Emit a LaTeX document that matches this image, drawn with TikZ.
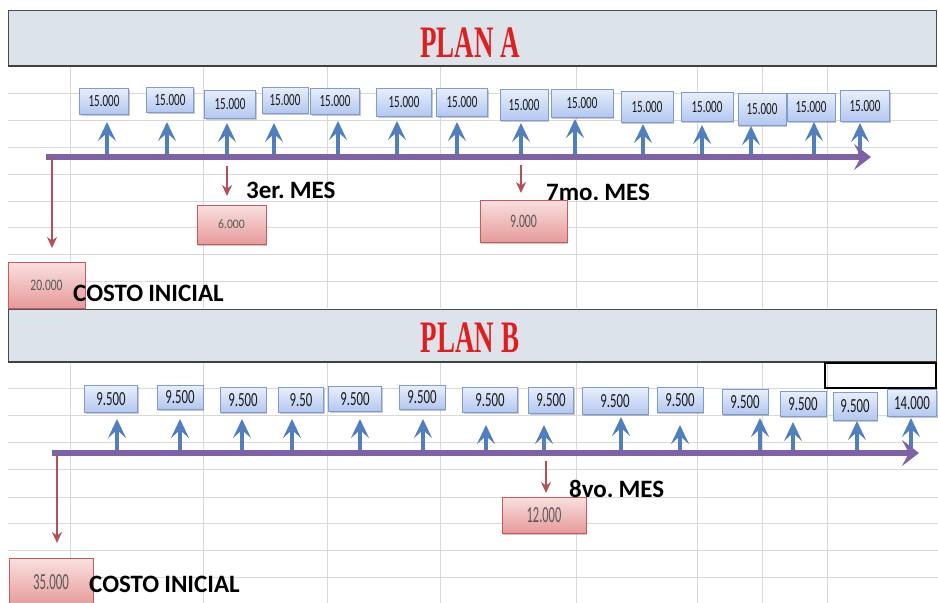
\documentclass[tikz,border=0pt]{standalone}
\usepackage{fontspec}
\setmainfont{Carlito}
\newfontfamily\titlefont{Liberation Serif}
\usetikzlibrary{arrows.meta,shadows}
\definecolor{gridc}{HTML}{D9D9D9}
\definecolor{bandc}{HTML}{DCE3EB}
\definecolor{titlec}{HTML}{E31E1A}
\definecolor{axisc}{HTML}{7D63A6}
\definecolor{upc}{HTML}{4F7FBF}
\definecolor{downc}{HTML}{B84F57}
\definecolor{bboxb}{HTML}{7F9BD0}
\definecolor{btop}{HTML}{E8EFFB}
\definecolor{bbot}{HTML}{B3C7F0}
\definecolor{rtop}{HTML}{FAE0E0}
\definecolor{rbot}{HTML}{E69A9A}
\definecolor{rboxb}{HTML}{C9595B}
\newcommand\numA[1]{\scalebox{0.65}[1]{\fontsize{17}{17}\selectfont #1}}
\newcommand\numB[1]{\scalebox{0.64}[1]{\fontsize{20}{20}\selectfont #1}}
\newcommand\numR[3]{\scalebox{#2}[1]{\fontsize{#1}{#1}\selectfont #3}}
\newcommand\wsp{\hspace{0.2em}}
\tikzset{
  bluebox/.style={draw=bboxb, line width=0.8pt, top color=btop, bottom color=bbot,
    inner sep=0pt, text=black!90,
    drop shadow={shadow xshift=1.2pt, shadow yshift=-1.8pt, opacity=0.35, fill=black!60}},
  redbox/.style={draw=rboxb, line width=0.8pt, top color=rtop, bottom color=rbot,
    inner sep=0pt, text=black!65,
    drop shadow={shadow xshift=1.2pt, shadow yshift=-1.8pt, opacity=0.35, fill=black!60}},
  axisline/.style={draw=axisc, line width=5.5pt, -{Stealth[length=17pt,width=26pt,inset=7pt]}},
  uparrow/.style={draw=upc, line width=3.6pt, -{Stealth[length=19pt,width=18pt,inset=8pt]}},
  downarrow/.style={draw=downc, line width=2.4pt, -{Stealth[length=11pt,width=10pt]}},
  lbl/.style={font=\bfseries\fontsize{25}{25}\selectfont, anchor=west, inner sep=0pt},
  titletext/.style={font=\titlefont\bfseries\fontsize{45}{45}\selectfont, text=titlec, inner sep=0pt},
  gridline/.style={draw=gridc, line width=1pt},
  band/.style={fill=bandc, draw=black!70, line width=1pt}
}
\begin{document}
\begin{tikzpicture}[x=1pt,y=-1pt]
\useasboundingbox (0,0) rectangle (938,603);
\fill[white] (0,0) rectangle (938,603);
% grid
\foreach \y in {93,120,147,174,201,227,254,281} \draw[gridline] (8,\y) -- (938,\y);
\foreach \x in {70,203,327,440,576,697,762,827} \draw[gridline] (\x,66) -- (\x,308);
\foreach \y in {388,415,442,469,497,523,550,577} \draw[gridline] (8,\y) -- (938,\y);
\foreach \x in {70,203,327,440,576,697,762,827} \draw[gridline] (\x,362) -- (\x,603);
% bands
\draw[band] (8,10) rectangle (936,66);
\draw[black!75, line width=1.6pt] (8,66) -- (936,66);
\draw[band] (8,309) rectangle (936,362);
\draw[black!75, line width=1.6pt] (8,362) -- (936,362);
\node[titletext] (tA) at (470,43) {\scalebox{0.6}[1]{PLAN A}};
\node[titletext] (tB) at (470,338) {\scalebox{0.6}[1]{PLAN B}};
\draw[black, line width=1.5pt] (825,363) rectangle (936,388);
% PLAN A payments
\foreach \i/\cx/\cy/\w/\h/\ax/\ty in {
  1/104/101/49/26/107/122, 2/170/100/47/25/167/122, 3/230/104/51/28/227/123,
  4/285/100/46/26/274/123, 5/335/101/49/26/338/121, 6/404/102/55/28/397/121,
  7/462/102/51/28/457/122, 8/524/105/48/31/521/123, 9/582/103/62/28/575/119,
  10/647/107/52/31/643/124, 11/707/107/52/29/702/125, 12/762/109/48/32/751/126,
  13/811/107/48/28/814/122, 14/865/106/49/31/860/123}{
  \coordinate (sA\i) at (\ax,158);
  \coordinate (eA\i) at (\ax,\ty);
  \draw[uparrow] (sA\i) -- (eA\i);
  \node[bluebox, minimum width=\w pt, minimum height=\h pt] (bA\i) at (\cx,\cy) {\numA{15.000}};
}
\coordinate (axA0) at (46,157);
\coordinate (axA1) at (871,157);
\draw[axisline] (axA0) -- (axA1);
% PLAN A costs
\coordinate (dA1s) at (52,157); \coordinate (dA1e) at (52,248);
\coordinate (dA2s) at (227,166); \coordinate (dA2e) at (227,196);
\coordinate (dA3s) at (521,165); \coordinate (dA3e) at (521,193);
\draw[downarrow] (dA1s) -- (dA1e);
\draw[downarrow] (dA2s) -- (dA2e);
\draw[downarrow] (dA3s) -- (dA3e);
\node[redbox, minimum width=77pt, minimum height=46pt] (rA1) at (46.5,285) {\numR{16}{0.72}{20.000}};
\node[redbox, minimum width=69pt, minimum height=39pt] (rA2) at (231.5,224.5) {\numR{13}{0.9}{6.000}};
\node[redbox, minimum width=87pt, minimum height=42pt] (rA3) at (523.5,221) {\numR{19}{0.62}{9.000}};
\node[lbl] (lA2) at (246,190) {3er.\wsp MES};
\node[lbl] (lA3) at (546,192) {7mo.\wsp MES};
\node[lbl] (lA1) at (73,293) {COSTO\wsp INICIAL};
% PLAN B payments
\foreach \i/\cx/\cy/\w/\h/\ax/\ty/\t in {
  1/111/399/53/27/117/419/9.500, 2/180/397/46/24/180/419/9.500,
  3/243/400/46/25/242/419/9.500, 4/301/400/45/25/292/419/9.50,
  5/355/399/53/25/360/419/9.500, 6/422/397/46/24/423/419/9.500,
  7/490/400/55/25/486/425/9.500, 8/551/400/45/26/544/425/9.500,
  9/615/401/66/27/621/417/9.500, 10/680/400/46/25/680/425/9.500,
  11/745/402/46/25/760/418/9.500, 12/803/404/46/25/793/422/9.500,
  13/855/406/44/28/857/421/9.500, 14/912/403/49/27/911/418/14.000}{
  \coordinate (sB\i) at (\ax,455);
  \coordinate (eB\i) at (\ax,\ty);
  \draw[uparrow] (sB\i) -- (eB\i);
  \node[bluebox, minimum width=\w pt, minimum height=\h pt] (bB\i) at (\cx,\cy) {\numB{\t}};
}
\coordinate (axB0) at (52,453);
\coordinate (axB1) at (919,453);
\draw[axisline] (axB0) -- (axB1);
% PLAN B costs
\coordinate (dB1s) at (57,454); \coordinate (dB1e) at (57,543);
\coordinate (dB2s) at (546,461); \coordinate (dB2e) at (546,493);
\draw[downarrow] (dB1s) -- (dB1e);
\draw[downarrow] (dB2s) -- (dB2e);
\node[redbox, minimum width=84pt, minimum height=48pt] (rB1) at (51,582) {\numR{23}{0.56}{35.000}};
\node[redbox, minimum width=84pt, minimum height=36pt] (rB2) at (544,515) {\numR{23}{0.54}{12.000}};
\node[lbl] (lB2) at (569,489) {8vo.\wsp MES};
\node[lbl] (lB1) at (89,584) {COSTO\wsp INICIAL};
\end{tikzpicture}
\end{document}
